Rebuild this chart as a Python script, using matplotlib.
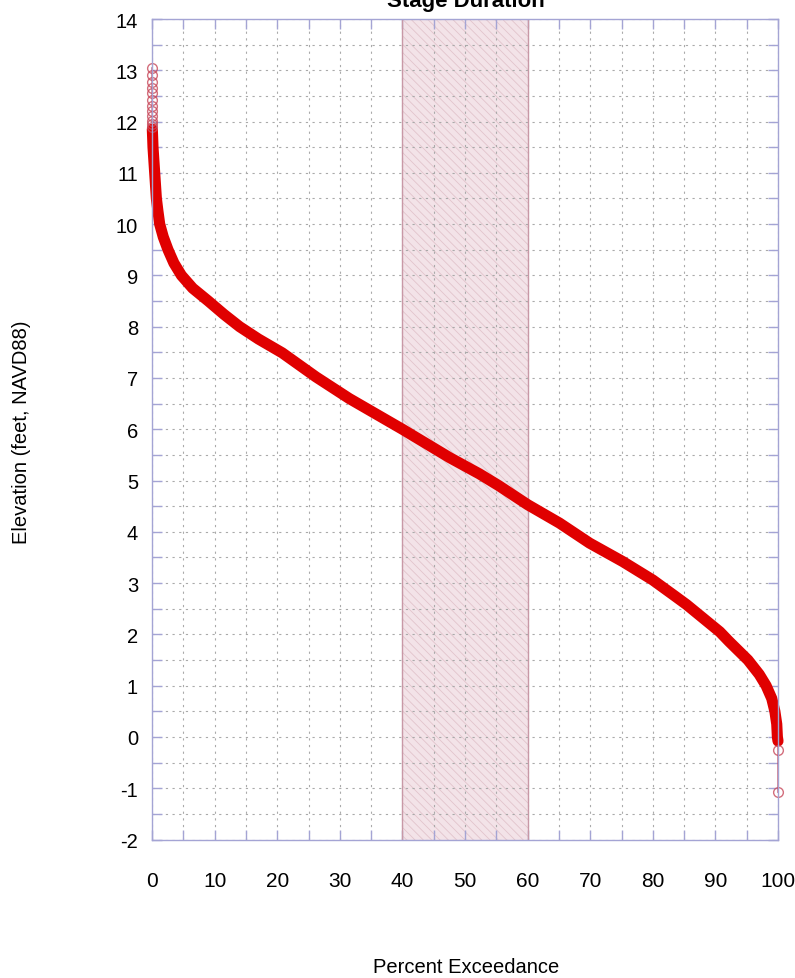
import numpy as np
import matplotlib.pyplot as plt
from matplotlib.ticker import MultipleLocator

plt.rcParams['font.family'] = ['Liberation Sans', 'DejaVu Sans']
plt.rcParams['axes.unicode_minus'] = False

# Duration curve (percent exceedance vs elevation)
exceed_pct = [0.05, 0.1, 0.16, 0.43, 0.7, 0.95, 1.23, 1.8, 2.56, 3.5, 4.7, 6.5, 9.0,
              11.5, 14.0, 17.0, 20.8, 26.2, 31.5, 40.0, 47.5, 52.3, 55.4, 60.0,
              65.1, 69.9, 75.2, 80.0, 83.5, 85.4, 90.7, 92.2, 95.2, 97.0, 98.1,
              99.0, 99.5, 99.8, 99.9, 100.0]
elevation = [11.85, 11.7, 11.5, 11.0, 10.5, 10.25, 10.0, 9.75, 9.5, 9.24, 9.0, 8.75,
             8.5, 8.24, 8.0, 7.76, 7.49, 7.02, 6.6, 6.0, 5.45, 5.13, 4.9, 4.53,
             4.17, 3.78, 3.42, 3.06, 2.75, 2.58, 2.05, 1.86, 1.5, 1.22, 1.0,
             0.75, 0.5, 0.25, 0.0, -0.08]

# sparse extreme values at the two ends
top_pct = [0.0, 0.0, 0.01, 0.01, 0.01, 0.02, 0.02, 0.02, 0.03, 0.03, 0.04, 0.04]
top_elev = [13.05, 12.9, 12.78, 12.65, 12.55, 12.42, 12.3, 12.2, 12.1, 12.02, 11.95, 11.9]
low_pct = [100.0, 100.0]
low_elev = [-0.25, -1.08]

band_lo, band_hi = 40, 60
x_ticks = list(range(0, 101, 10))
y_ticks = list(range(-2, 15))

frame = '#a4a4d4'
red = '#e00000'

fig = plt.figure(figsize=(7.95, 9.79), dpi=100)
ax = fig.add_axes([152 / 795, 1 - 840.5 / 979, 626 / 795, 820.5 / 979])

# shaded 40-60 % band
plt.rcParams['hatch.color'] = '#e2c4cc'
plt.rcParams['hatch.linewidth'] = 0.6
ax.axvspan(band_lo, band_hi, facecolor='#f3e3e8', edgecolor='none', zorder=0)
ax.axvspan(band_lo, band_hi, facecolor='none', edgecolor='#e2c4cc', hatch='\\\\\\\\',
           lw=0, zorder=0.5)
ax.axvline(band_lo, color='#c898a6', lw=1, zorder=0.6)
ax.axvline(band_hi, color='#c898a6', lw=1, zorder=0.6)

# thin connecting line through all points
all_x = top_pct + exceed_pct + low_pct
all_y = top_elev + elevation + low_elev
ax.plot(all_x, all_y, color='#c03048', lw=0.8, zorder=2, clip_on=False)

# dense part of the curve
ax.plot(exceed_pct, elevation, color=red, lw=8, solid_capstyle='round',
        solid_joinstyle='round', zorder=3, clip_on=False)

# sparse open circles
ax.plot(top_pct, top_elev, 'o', mfc='none', mec='#c84a5c', mew=1, ms=7, alpha=0.8,
        zorder=4, clip_on=False)
ax.plot(low_pct, low_elev, 'o', mfc='none', mec='#c84a5c', mew=1, ms=7, alpha=0.8,
        zorder=4, clip_on=False)

ax.set_xlim(0, 100)
ax.set_ylim(-2, 14)
ax.set_xticks(x_ticks)
ax.set_yticks(y_ticks)
ax.xaxis.set_minor_locator(MultipleLocator(5))
ax.yaxis.set_minor_locator(MultipleLocator(0.5))

ax.grid(True, which='both', color='#aaaaaa', linestyle=(0, (2, 4)), lw=0.8, zorder=1)
ax.set_axisbelow(True)

for s in ax.spines.values():
    s.set_color(frame)
    s.set_linewidth(1)
    s.set_zorder(5)

ax.tick_params(which='both', direction='in', top=True, right=True,
               length=7, width=1, color=frame)
ax.tick_params(axis='x', labelsize=15, pad=23)
ax.tick_params(axis='y', labelsize=14.5, pad=10)

fig.text(466 / 795, 1 - 7 / 979, 'Stage Duration', ha='center', va='baseline',
         fontsize=16, fontweight='bold')
fig.text(466 / 795, 1 - 968 / 979, 'Percent Exceedance', ha='center', va='center',
         fontsize=14.5)
fig.text(22 / 795, 1 - 432 / 979, 'Elevation (feet, NAVD88)', ha='center', va='center',
         rotation=90, fontsize=14.5)

fig.savefig('out.png', dpi=100)
